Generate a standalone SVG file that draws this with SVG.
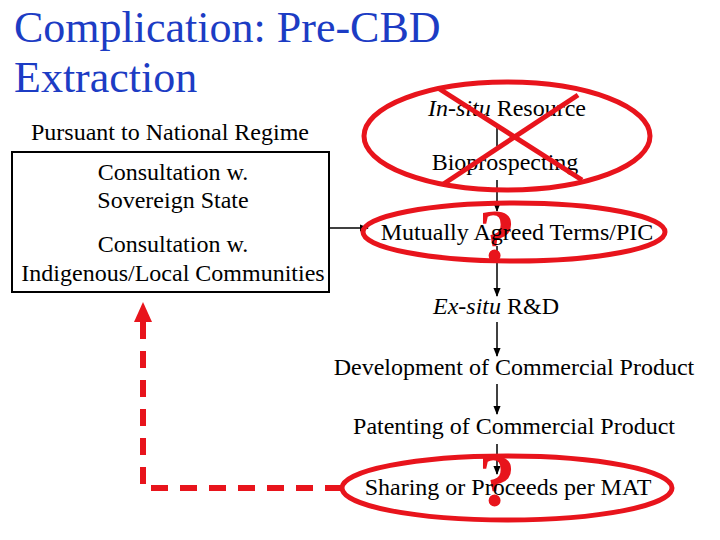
<svg xmlns="http://www.w3.org/2000/svg" width="720" height="540" viewBox="0 0 720 540">
<defs>
<style>
.t{font-family:"Liberation Serif","Times New Roman",serif;font-size:24px;fill:#000;text-anchor:middle}
.title{font-family:"Liberation Serif","Times New Roman",serif;font-size:44px;fill:#1c3cc4}
.ln{stroke:#000;stroke-width:1.5;fill:none}
.red{stroke:#e8141c;fill:none}
.q{font-family:"Liberation Serif","Times New Roman",serif;font-size:74px;font-weight:bold;fill:#e8141c;text-anchor:middle}
</style>
<marker id="ah" viewBox="0 0 10 10" refX="9" refY="5" markerWidth="6" markerHeight="6" orient="auto"><path d="M0,1 L10,5 L0,9 Z" fill="#000"/></marker>
</defs>
<rect width="720" height="540" fill="#fff"/>
<g id="title">
<text class="title" x="14" y="42">Complication: Pre-CBD</text>
<text class="title" x="14" y="92">Extraction</text>
</g>
<g id="connectors">
<line class="ln" x1="497" y1="124" x2="497" y2="146"/>
<line class="ln" x1="497" y1="180" x2="497" y2="211" marker-end="url(#ah)"/>
<line class="ln" x1="497" y1="246" x2="497" y2="296" marker-end="url(#ah)"/>
<line class="ln" x1="497" y1="322" x2="497" y2="356" marker-end="url(#ah)"/>
<line class="ln" x1="497" y1="384" x2="497" y2="414" marker-end="url(#ah)"/>
<line class="ln" x1="497" y1="444" x2="497" y2="474" marker-end="url(#ah)"/>
<line class="ln" x1="329" y1="228" x2="368" y2="228" marker-end="url(#ah)"/>
<path class="red" d="M342,488 H143 V322" stroke-width="6" stroke-dasharray="17,12"/>
<path d="M143,302 L134,322 L152,322 Z" fill="#e8141c"/>
</g>
<g id="regime">
<text class="t" x="170" y="140">Pursuant to National Regime</text>
<rect x="12" y="152" width="317" height="140" fill="none" stroke="#000" stroke-width="2"/>
<text class="t" x="173" y="180">Consultation w.</text>
<text class="t" x="173" y="208">Sovereign State</text>
<text class="t" x="173" y="252">Consultation w.</text>
<text class="t" x="173" y="281">Indigenous/Local Communities</text>
</g>
<g id="insitu">
<text class="t" x="507" y="116"><tspan font-style="italic">In-situ</tspan> Resource</text>
</g>
<g id="bioprospecting">
<text class="t" x="505" y="170">Bioprospecting</text>
</g>
<g id="crossout">
<ellipse class="red" cx="507" cy="136" rx="143" ry="54" stroke-width="5"/>
<line class="red" x1="438" y1="88" x2="582" y2="180" stroke-width="5"/>
<line class="red" x1="578" y1="95" x2="442" y2="185" stroke-width="5"/>
</g>
<g id="mat">
<text class="q" x="497" y="261">?</text>
<ellipse class="red" cx="514" cy="232" rx="151" ry="29" stroke-width="5"/>
<text class="t" x="517" y="240">Mutually Agreed Terms/PIC</text>
</g>
<g id="exsitu">
<text class="t" x="496" y="314"><tspan font-style="italic">Ex-situ</tspan> R&amp;D</text>
</g>
<g id="development">
<text class="t" x="514" y="375">Development of Commercial Product</text>
</g>
<g id="patenting">
<text class="t" x="514" y="434">Patenting of Commercial Product</text>
</g>
<g id="sharing">
<text class="q" x="497" y="506">?</text>
<ellipse class="red" cx="507" cy="488" rx="165" ry="32" stroke-width="5"/>
<text class="t" x="508" y="495">Sharing or Proceeds per MAT</text>
</g>
</svg>
